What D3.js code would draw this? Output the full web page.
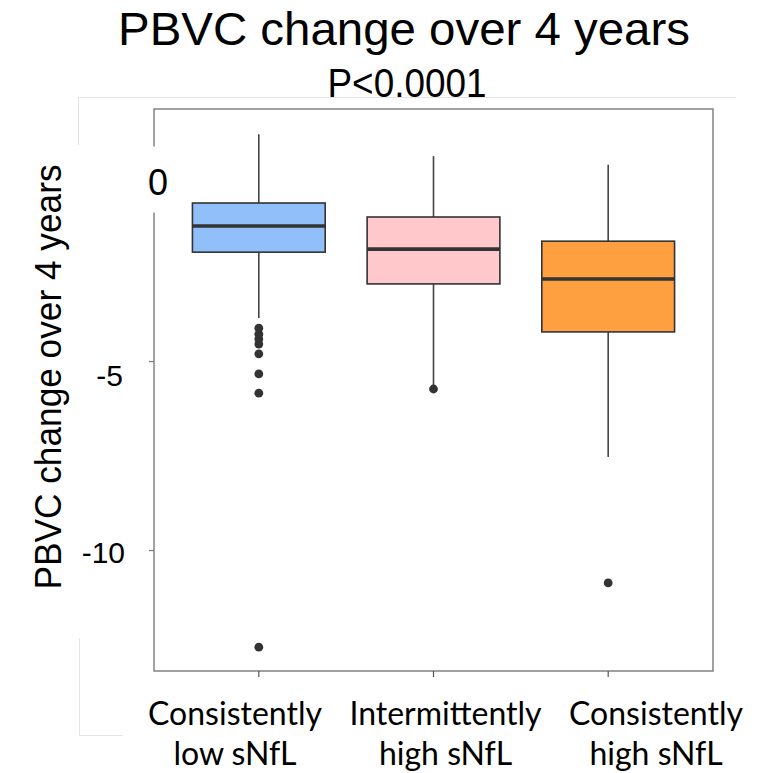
<!DOCTYPE html>
<html><head><meta charset="utf-8">
<script src="https://cdn.jsdelivr.net/npm/d3@7"></script>
<style>body{margin:0;background:#fff}svg{display:block}</style>
</head><body><svg id="c" width="775" height="773"></svg>
<script>
const categories = ["Consistently low sNfL", "Intermittently high sNfL", "Consistently high sNfL"];
const labelLines = [["Consistently", "low sNfL"], ["Intermittently", "high sNfL"], ["Consistently", "high sNfL"]];
const whiskerHigh = [1.0, 0.42, 0.19];
const q3 = [-0.82, -1.19, -1.83];
const medians = [-1.43, -2.04, -2.83];
const q1 = [-2.12, -2.96, -4.23];
const whiskerLow = [-3.86, -5.68, -7.54];
const outliers = [
  [-4.13, -4.29, -4.42, -4.55, -4.81, -5.34, -5.85, -12.57],
  [-5.74],
  [-10.87]
];
const fills = ["#90BFF9", "#FFC8CB", "#FFA040"];
const yTicks = [-10, -5, 0];
const title = "PBVC change over 4 years";
const subtitle = "P<0.0001";
const yTitle = "PBVC change over 4 years";

const svg = d3.select("#c");
const P = {l:154, r:713, t:109, b:671};

const x = d3.scaleBand().domain(categories).range([P.l, P.r]).paddingInner(0.24).paddingOuter(0.22);
const y = d3.scaleLinear().domain([-13.2, 1.667]).range([P.b, P.t]);
const xl = d3.scalePoint().domain(categories).range([235, 656]);

// faint frame of pasted image
const faint = "#e4e4e4";
svg.append("line").attr("x1",78).attr("x2",736).attr("y1",97.5).attr("y2",97.5).attr("stroke",faint);
svg.append("line").attr("x1",78.5).attr("x2",78.5).attr("y1",97).attr("y2",145).attr("stroke",faint);
svg.append("line").attr("x1",79.5).attr("x2",79.5).attr("y1",638).attr("y2",735).attr("stroke",faint);
svg.append("line").attr("x1",79).attr("x2",123).attr("y1",735.5).attr("y2",735.5).attr("stroke",faint);

// panel border
svg.append("rect").attr("x",P.l).attr("y",P.t).attr("width",P.r-P.l).attr("height",P.b-P.t)
  .attr("fill","none").attr("stroke","#7a7a7a").attr("stroke-width",1.4);

// axes
const ya = svg.append("g").attr("transform",`translate(${P.l},0)`)
  .call(d3.axisLeft(y).tickValues(yTicks).tickSize(5).tickPadding(24).tickFormat(d => String(d)));
ya.select(".domain").remove();
ya.selectAll(".tick line").attr("stroke","#7a7a7a").attr("stroke-width",1.2);
ya.selectAll(".tick text").attr("fill","#000").attr("font-family","Liberation Sans, Arial, sans-serif").attr("font-size",30);
ya.selectAll(".tick").filter(d => d === -5).select("text").attr("dy","0.8em").attr("x",-31);
ya.selectAll(".tick").filter(d => d === -10).select("text").attr("dy","0.4em").attr("x",-29);
const zeroTick = ya.selectAll(".tick").filter(d => d === 0);
zeroTick.select("line").remove();
zeroTick.insert("rect","text").attr("x",-9).attr("y",-26).attr("width",24).attr("height",66).attr("fill","#fff");
zeroTick.select("text").attr("text-anchor","middle").attr("x",4).attr("dy","0.62em").attr("font-size",36);

const xa = svg.append("g").attr("transform",`translate(0,${P.b})`)
  .call(d3.axisBottom(x).tickSize(6).tickFormat(""));
xa.select(".domain").remove();
xa.selectAll(".tick line").attr("stroke","#555").attr("stroke-width",1.2);

// boxes
const g = svg.append("g");
categories.forEach((c, i) => {
  const cx = x(c) + x.bandwidth()/2;
  const bw = x.bandwidth();
  g.append("line").attr("x1",cx).attr("x2",cx).attr("y1",y(whiskerHigh[i])).attr("y2",y(q3[i]))
    .attr("stroke","#444").attr("stroke-width",1.6);
  g.append("line").attr("x1",cx).attr("x2",cx).attr("y1",y(q1[i])).attr("y2",y(whiskerLow[i]))
    .attr("stroke","#444").attr("stroke-width",1.6);
  g.append("rect").attr("x",x(c)).attr("y",y(q3[i])).attr("width",bw).attr("height",y(q1[i])-y(q3[i]))
    .attr("fill",fills[i]).attr("stroke","#333").attr("stroke-width",1.6);
  g.append("line").attr("x1",x(c)).attr("x2",x(c)+bw).attr("y1",y(medians[i])).attr("y2",y(medians[i]))
    .attr("stroke","#333").attr("stroke-width",3.6);
  g.selectAll(null).data(outliers[i]).enter().append("circle")
    .attr("cx",cx).attr("cy",d=>y(d)).attr("r",4.4).attr("fill","#333");
});

// x labels
categories.forEach((c, i) => {
  const t = svg.append("text").attr("x",xl(c)).attr("text-anchor","middle")
    .attr("font-family","Lato, 'Open Sans', sans-serif").attr("font-size",32).attr("fill","#000");
  t.append("tspan").attr("x",xl(c)).attr("y",725).text(labelLines[i][0]);
  t.append("tspan").attr("x",xl(c)).attr("y",765).text(labelLines[i][1]);
});

// titles
svg.append("text").attr("x",404).attr("y",45).attr("text-anchor","middle")
  .attr("font-family","Liberation Sans, Arial, sans-serif").attr("font-size",46)
  .attr("textLength",572).attr("lengthAdjust","spacingAndGlyphs").text(title);
svg.append("text").attr("x",407).attr("y",97).attr("text-anchor","middle")
  .attr("font-family","Liberation Sans, Arial, sans-serif").attr("font-size",40)
  .attr("textLength",159).attr("lengthAdjust","spacingAndGlyphs").text(subtitle);
svg.append("text").attr("transform","translate(61,377) rotate(-90)").attr("text-anchor","middle")
  .attr("font-family","Liberation Sans, Arial, sans-serif").attr("font-size",37)
  .attr("textLength",425).attr("lengthAdjust","spacingAndGlyphs").text(yTitle);
</script></body></html>
